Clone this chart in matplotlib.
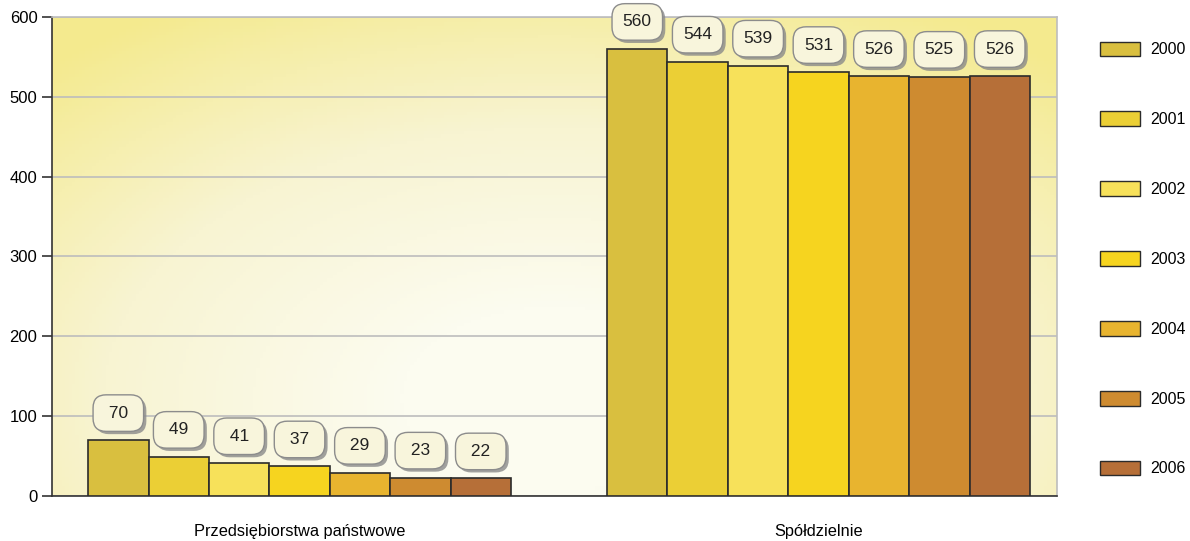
import numpy as np
import matplotlib.pyplot as plt
from matplotlib.patches import Patch
from matplotlib.colors import LinearSegmentedColormap
import matplotlib.patheffects as pe

plt.rcParams["font.family"] = ["Liberation Sans", "DejaVu Sans"]
plt.rcParams["font.size"] = 12

categories = ["Przedsiębiorstwa państwowe", "Spółdzielnie"]
years = ["2000", "2001", "2002", "2003", "2004", "2005", "2006"]
values = {
    "2000": [70, 560],
    "2001": [49, 544],
    "2002": [41, 539],
    "2003": [37, 531],
    "2004": [29, 526],
    "2005": [23, 525],
    "2006": [22, 526],
}
colors = ["#d9bf3f", "#ebcf35", "#f7e15a", "#f6d41f", "#e8b42f", "#ce8b30", "#b66f38"]

fig = plt.figure(figsize=(11.9, 5.41), dpi=100)
ax = fig.add_axes([0.0437, 0.0832, 0.8445, 0.8854])

# background gradient (pale centre, yellow towards the top corners)
gx, gy = np.meshgrid(np.linspace(0, 1, 300), np.linspace(0, 1, 150))
d = np.sqrt(((gx - 0.5) / 0.75) ** 2 + ((gy - 0.2) / 0.95) ** 2)
d = np.clip(d, 0, 1)
cmap = LinearSegmentedColormap.from_list("bg", ["#fcfcf0", "#f8f4d2", "#f4ea8e"])
ax.imshow(d, cmap=cmap, extent=(0, 1, 0, 1), transform=ax.transAxes,
          origin="lower", aspect="auto", zorder=0, vmin=0.2, vmax=1.0)

x = np.arange(len(categories))
width = 0.1164
n = len(years)
for i, (yr, c) in enumerate(zip(years, colors)):
    pos = x + (i - (n - 1) / 2) * width
    bars = ax.bar(pos, values[yr], width, color=c, edgecolor="#2b2b2b",
                  linewidth=1.2, label=yr, zorder=3)
    for b, v in zip(bars, values[yr]):
        t = ax.annotate(f" {v} " if v < 100 else f"{v}",
                        (b.get_x() + b.get_width() / 2, b.get_height()),
                        xytext=(0, 27), textcoords="offset pixels",
                        ha="center", va="center", fontsize=12.5, color="#222222",
                        zorder=5,
                        bbox=dict(boxstyle="round,pad=0.62,rounding_size=0.75",
                                  fc="#f8f5dc", ec="#8c8c8c", lw=1.0))
        t.get_bbox_patch().set_path_effects([
            pe.SimplePatchShadow(offset=(2, -2), shadow_rgbFace="#8a8a8a", alpha=0.8),
            pe.Normal()])

ax.set_xlim(-0.477, 1.4595)
ax.set_ylim(0, 600)
ax.set_yticks(range(0, 601, 100))
ax.yaxis.grid(True, color="#bdbdbd", linewidth=1.2, zorder=1)
ax.set_axisbelow(True)
ax.set_xticks(x)
ax.set_xticklabels(categories, fontsize=11.8)
ax.tick_params(axis="x", length=0, pad=20)
ax.tick_params(axis="y", length=7, width=1.2, color="#333333", labelsize=12)
for s in ["left", "bottom"]:
    ax.spines[s].set_color("#333333")
    ax.spines[s].set_linewidth(1.2)
for s in ["top", "right"]:
    ax.spines[s].set_color("#bdbdbd")
    ax.spines[s].set_linewidth(1.2)

handles = [Patch(facecolor=c, edgecolor="#2b2b2b", linewidth=1.0) for c in colors]
fig.legend(handles, years, loc="upper left", bbox_to_anchor=(0.92, 0.932),
           frameon=False, handlelength=2.55, handleheight=1.05, handletextpad=0.6,
           labelspacing=3.38, fontsize=11.5, borderaxespad=0, borderpad=0.3)

plt.savefig("out.png", dpi=100)
